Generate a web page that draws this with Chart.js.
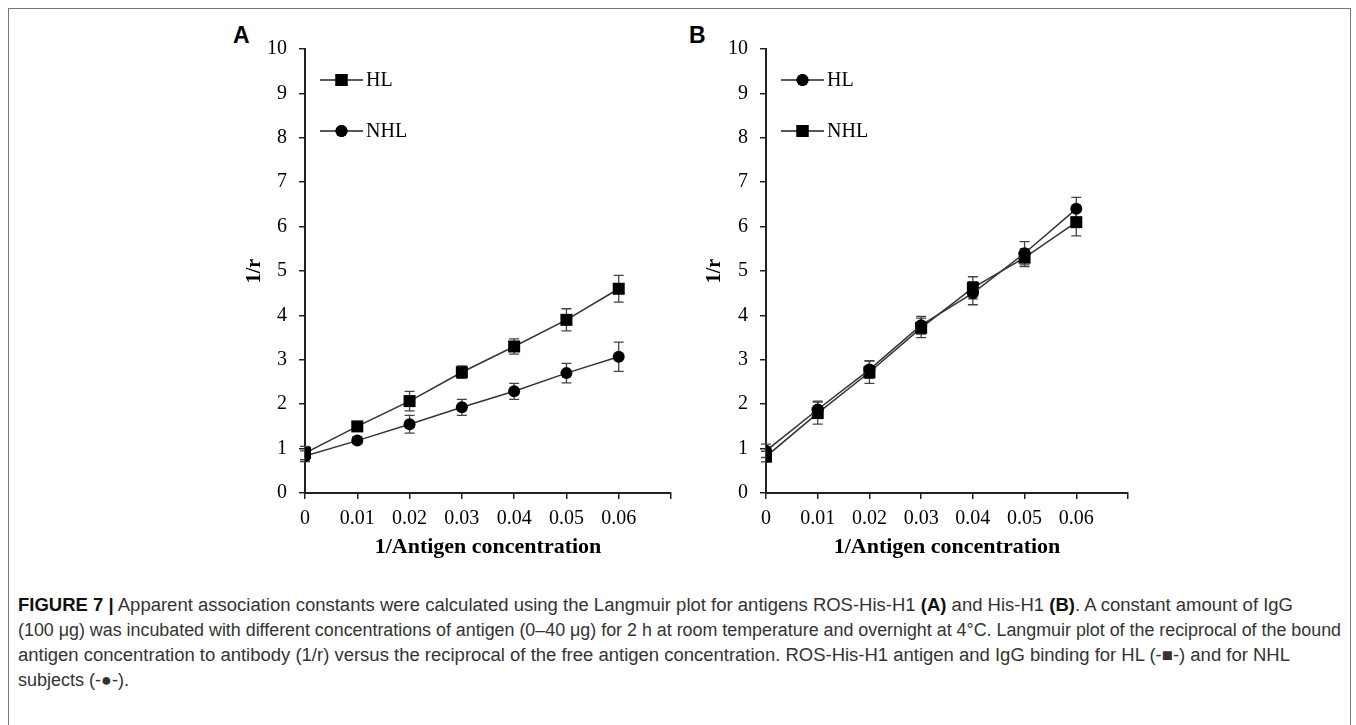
<!DOCTYPE html>
<html>
<head>
<meta charset="utf-8">
<script src="https://cdn.jsdelivr.net/npm/chart.js@4.4.0/dist/chart.umd.min.js"></script>
<style>
body { margin: 0; background: #fff; }
#page { position: relative; width: 1356px; height: 725px; overflow: hidden; background: #fff; }
#frame { position: absolute; left: 8px; top: 8px; width: 1341px; height: 760px; border: 1.5px solid #777; border-bottom: none; }
canvas { position: absolute; top: 20px; }
.letter { position: absolute; top: 22px; font: bold 23px "Liberation Sans", Arial, sans-serif; color: #000; }
#caption { position: absolute; left: 18px; top: 593px; font: 18px "Liberation Sans", Arial, sans-serif; color: #333; line-height: 25px; white-space: nowrap; }
#caption div { transform-origin: 0 0; width: max-content; }
#caption b { color: #111; }
</style>
</head>
<body>
<div id="page">
  <div id="frame"></div>
  <div class="letter" style="left:233px">A</div>
  <div class="letter" style="left:689px">B</div>
  <canvas id="chartA" width="500" height="560" style="left:200px"></canvas>
  <canvas id="chartB" width="500" height="560" style="left:660px"></canvas>
  <div id="caption">
    <div data-w="1275"><b>FIGURE 7 |</b> Apparent association constants were calculated using the Langmuir plot for antigens ROS-His-H1 <b>(A)</b> and His-H1 <b>(B)</b>. A constant amount of IgG</div>
    <div data-w="1323">(100 μg) was incubated with different concentrations of antigen (0–40 μg) for 2 h at room temperature and overnight at 4°C. Langmuir plot of the reciprocal of the bound</div>
    <div data-w="1272">antigen concentration to antibody (1/r) versus the reciprocal of the free antigen concentration. ROS-His-H1 antigen and IgG binding for HL (-■-) and for NHL</div>
    <div>subjects (-●-).</div>
  </div>
</div>
<script>
// x values (1/antigen concentration) and axis ticks
const xValues = [0, 0.01, 0.02, 0.03, 0.04, 0.05, 0.06];
const xTickValues = [0, 0.01, 0.02, 0.03, 0.04, 0.05, 0.06, 0.07];
const xTickLabels = ['0', '0.01', '0.02', '0.03', '0.04', '0.05', '0.06', ''];

// panel A: ROS-His-H1
const aHL = [0.9, 1.5, 2.07, 2.72, 3.3, 3.9, 4.6];
const aHLErr = [0.15, 0.08, 0.22, 0.14, 0.17, 0.25, 0.3];
const aNHL = [0.83, 1.18, 1.55, 1.93, 2.29, 2.7, 3.07];
const aNHLErr = [0.12, 0.07, 0.2, 0.18, 0.18, 0.22, 0.33];

// panel B: His-H1
const bHL = [0.95, 1.88, 2.78, 3.78, 4.5, 5.4, 6.4];
const bHLErr = [0.15, 0.19, 0.2, 0.2, 0.26, 0.26, 0.26];
const bNHL = [0.82, 1.8, 2.72, 3.72, 4.62, 5.3, 6.1];
const bNHLErr = [0.12, 0.25, 0.25, 0.22, 0.25, 0.2, 0.31];

const serif = '"Liberation Serif", "Times New Roman", serif';

function points(ys, errs) {
    return xValues.map((x, i) => ({ x: x, y: ys[i], err: errs[i] }));
}

// vertical error bars with caps, drawn under the markers
const errorBars = {
    id: 'errorBars',
    beforeDatasetsDraw(chart) {
        const ctx = chart.ctx;
        const yScale = chart.scales.y;
        ctx.save();
        ctx.strokeStyle = '#444';
        ctx.lineWidth = 1.3;
        chart.data.datasets.forEach((ds, i) => {
            const meta = chart.getDatasetMeta(i);
            meta.data.forEach((pt, j) => {
                const d = ds.data[j];
                const top = yScale.getPixelForValue(d.y + d.err);
                const bot = yScale.getPixelForValue(d.y - d.err);
                ctx.beginPath();
                ctx.moveTo(pt.x, top); ctx.lineTo(pt.x, bot);
                ctx.moveTo(pt.x - 5, top); ctx.lineTo(pt.x + 5, top);
                ctx.moveTo(pt.x - 5, bot); ctx.lineTo(pt.x + 5, bot);
                ctx.stroke();
            });
        });
        ctx.restore();
    }
};

// legend in the top-left corner of the plot: line through marker, then label
const lineLegend = {
    id: 'lineLegend',
    afterDraw(chart) {
        const ctx = chart.ctx;
        const area = chart.chartArea;
        ctx.save();
        chart.data.datasets.forEach((ds, i) => {
            const y = area.top + 31 + i * 51;
            const x0 = area.left + 15;
            const x1 = area.left + 58;
            ctx.strokeStyle = '#222';
            ctx.lineWidth = 1.5;
            ctx.beginPath(); ctx.moveTo(x0, y); ctx.lineTo(x1, y); ctx.stroke();
            ctx.fillStyle = '#000';
            Chart.helpers.drawPoint(ctx, { pointStyle: ds.pointStyle, radius: ds.pointRadius, borderWidth: 0 }, (x0 + x1) / 2, y);
            ctx.fill();
            ctx.font = '20px ' + serif;
            ctx.textBaseline = 'middle';
            ctx.fillStyle = '#000';
            ctx.fillText(ds.label, x1 + 3, y + 1);
        });
        ctx.restore();
    }
};

function makeChart(id, datasets, yWidth, rightPad) {
    return new Chart(document.getElementById(id), {
        type: 'scatter',
        data: { datasets: datasets },
        options: {
            responsive: false,
            animation: false,
            layout: { padding: { top: 29, right: rightPad, left: 0, bottom: 0 } },
            plugins: { legend: { display: false }, tooltip: { enabled: false } },
            scales: {
                x: {
                    type: 'linear', min: 0, max: 0.07,
                    afterBuildTicks: (scale) => { scale.ticks = xTickValues.map(v => ({ value: v })); },
                    afterFit: (scale) => { scale.height = 87; },
                    grid: { drawOnChartArea: false, drawTicks: true, tickLength: 6, color: '#222', lineWidth: 1.5 },
                    border: { display: true, color: '#222', width: 2 },
                    ticks: {
                        autoSkip: false, maxRotation: 0, padding: 8, color: '#000',
                        font: { family: serif, size: 20 },
                        callback: (v, i) => xTickLabels[i]
                    },
                    title: {
                        display: true, text: '1/Antigen concentration', color: '#000',
                        font: { family: serif, size: 22, weight: 'bold' },
                        padding: { top: 0, bottom: 19 }
                    }
                },
                y: {
                    min: 0, max: 10,
                    afterFit: (scale) => { scale.width = yWidth; },
                    grid: { drawOnChartArea: false, drawTicks: true, tickLength: 6, color: '#222', lineWidth: 1.5 },
                    border: { display: true, color: '#222', width: 2 },
                    ticks: { stepSize: 1, padding: 12, color: '#000', font: { family: serif, size: 20 } },
                    title: {
                        display: true, text: '1/r', color: '#000',
                        font: { family: serif, size: 20, weight: 'bold' },
                        padding: { top: 43, bottom: 0 }
                    }
                }
            }
        },
        plugins: [errorBars, lineLegend]
    });
}

function series(label, ys, errs, style, radius) {
    return {
        label: label,
        data: points(ys, errs),
        showLine: true,
        borderColor: '#333',
        borderWidth: 1.5,
        pointStyle: style,
        pointRadius: radius,
        pointBackgroundColor: '#000',
        pointBorderColor: '#000',
        pointBorderWidth: 0
    };
}

makeChart('chartA', [
    series('HL', aHL, aHLErr, 'rect', 8.5),
    series('NHL', aNHL, aNHLErr, 'circle', 6)
], 105, 29);

makeChart('chartB', [
    series('HL', bHL, bHLErr, 'circle', 6),
    series('NHL', bNHL, bNHLErr, 'rect', 8.5)
], 106, 32);

// stretch the long caption lines to the widths they have in the figure
document.querySelectorAll('#caption div[data-w]').forEach(el => {
    const w = el.getBoundingClientRect().width;
    el.style.transform = 'scaleX(' + (Number(el.dataset.w) / w) + ')';
});
</script>
</body>
</html>
